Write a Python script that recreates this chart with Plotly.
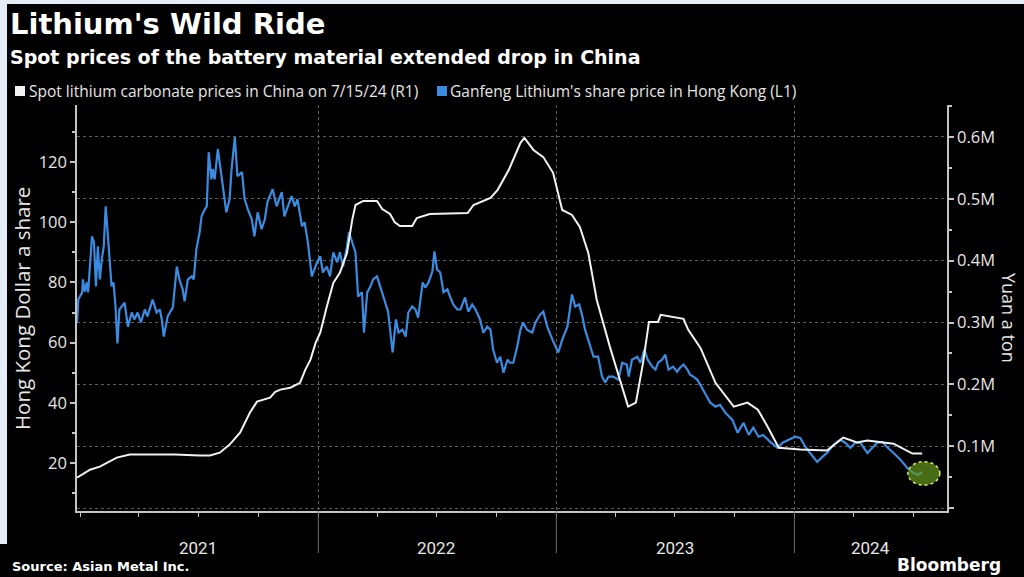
import plotly.graph_objects as go

# ---------------- data ----------------
ganfeng_dates = [
    "2020-12-27", "2020-12-29", "2021-01-04", "2021-01-05", "2021-01-08", "2021-01-11", "2021-01-13",
    "2021-01-16", "2021-01-19", "2021-01-22", "2021-01-25", "2021-01-28", "2021-01-31", "2021-02-03",
    "2021-02-06", "2021-02-09", "2021-02-12", "2021-02-15", "2021-02-18", "2021-02-21", "2021-02-24",
    "2021-02-27", "2021-03-02", "2021-03-10", "2021-03-15", "2021-03-21", "2021-03-25", "2021-03-30",
    "2021-04-04", "2021-04-10", "2021-04-14", "2021-04-22", "2021-04-28", "2021-05-03", "2021-05-06",
    "2021-05-09", "2021-05-15", "2021-05-23", "2021-05-29", "2021-06-02", "2021-06-07", "2021-06-10",
    "2021-06-15", "2021-06-21", "2021-06-24", "2021-06-28", "2021-07-03", "2021-07-06", "2021-07-11",
    "2021-07-14", "2021-07-17", "2021-07-21", "2021-07-23", "2021-07-26", "2021-07-31", "2021-08-04",
    "2021-08-07", "2021-08-13", "2021-08-18", "2021-08-21", "2021-08-26", "2021-08-30", "2021-09-06",
    "2021-09-10", "2021-09-15", "2021-09-21", "2021-09-25", "2021-09-30", "2021-10-06", "2021-10-11",
    "2021-10-15", "2021-10-23", "2021-10-29", "2021-11-06", "2021-11-10", "2021-11-15", "2021-11-21",
    "2021-11-26", "2021-11-30", "2021-12-07", "2021-12-11", "2021-12-16", "2021-12-22", "2021-12-30",
    "2022-01-04", "2022-01-08", "2022-01-14", "2022-01-19", "2022-01-24", "2022-01-30", "2022-02-03",
    "2022-02-08", "2022-02-14", "2022-02-17", "2022-02-22", "2022-02-27", "2022-03-03", "2022-03-09",
    "2022-03-12", "2022-03-17", "2022-03-22", "2022-03-26", "2022-04-01", "2022-04-06", "2022-04-14",
    "2022-04-18", "2022-04-25", "2022-04-30", "2022-05-04", "2022-05-10", "2022-05-15", "2022-05-19",
    "2022-05-25", "2022-05-30", "2022-06-03", "2022-06-10", "2022-06-14", "2022-06-19", "2022-06-25",
    "2022-06-28", "2022-07-02", "2022-07-07", "2022-07-12", "2022-07-18", "2022-07-22", "2022-07-27",
    "2022-08-02", "2022-08-07", "2022-08-14", "2022-08-19", "2022-08-25", "2022-08-30", "2022-09-06",
    "2022-09-11", "2022-09-17", "2022-09-22", "2022-09-26", "2022-10-02", "2022-10-07", "2022-10-12",
    "2022-10-18", "2022-10-22", "2022-10-27", "2022-11-02", "2022-11-07", "2022-11-11", "2022-11-17",
    "2022-11-25", "2022-11-30", "2022-12-07", "2022-12-12", "2022-12-18", "2022-12-26", "2023-01-04",
    "2023-01-10", "2023-01-18", "2023-01-25", "2023-01-30", "2023-02-05", "2023-02-10", "2023-02-14",
    "2023-02-22", "2023-02-27", "2023-03-06", "2023-03-12", "2023-03-17", "2023-03-22", "2023-03-29",
    "2023-04-06", "2023-04-12", "2023-04-19", "2023-04-22", "2023-04-27", "2023-05-05", "2023-05-10",
    "2023-05-16", "2023-05-21", "2023-05-28", "2023-06-02", "2023-06-06", "2023-06-12", "2023-06-17",
    "2023-06-22", "2023-06-29", "2023-07-05", "2023-07-10", "2023-07-15", "2023-07-21", "2023-07-25",
    "2023-07-30", "2023-08-05", "2023-08-14", "2023-08-25", "2023-09-02", "2023-09-09", "2023-09-17",
    "2023-09-28", "2023-10-06", "2023-10-15", "2023-10-23", "2023-10-30", "2023-11-07", "2023-11-14",
    "2023-11-25", "2023-12-06", "2023-12-14", "2023-12-23", "2024-01-02", "2024-01-10", "2024-01-18",
    "2024-01-25", "2024-02-05", "2024-02-13", "2024-02-20", "2024-03-01", "2024-03-11", "2024-03-19",
    "2024-03-27", "2024-04-03", "2024-04-11", "2024-04-22", "2024-04-30", "2024-05-07", "2024-05-15",
    "2024-05-22", "2024-06-01", "2024-06-12", "2024-06-22", "2024-07-01", "2024-07-09", "2024-07-15",
]
ganfeng_hkd = [
    66.7, 74.3, 76.7, 81.0, 77.0, 80.0, 76.7,
    87.7, 95.3, 93.3, 78.7, 92.0, 81.0, 87.7,
    92.0, 105.3, 97.7, 87.7, 78.7, 80.0, 72.0,
    59.7, 71.0, 73.3, 65.3, 70.0, 67.7, 70.0,
    66.7, 71.0, 68.7, 74.3, 70.0, 71.0, 67.7,
    62.0, 68.7, 71.7, 85.3, 81.0, 77.7, 73.7,
    81.0, 82.0, 81.0, 91.0, 96.7, 102.0, 104.3,
    105.3, 123.3, 114.3, 117.7, 114.3, 124.3, 117.7,
    114.3, 103.3, 107.7, 117.7, 128.3, 115.3, 116.7,
    107.7, 104.3, 101.0, 95.3, 103.3, 97.7, 101.0,
    106.7, 111.0, 105.3, 110.0, 102.0, 105.3, 108.7,
    105.3, 107.7, 98.7, 100.0, 93.3, 82.0, 86.7,
    88.7, 83.3, 85.3, 82.0, 90.0, 86.7, 90.0,
    85.3, 92.0, 96.7, 93.3, 90.0, 75.3, 76.7,
    63.3, 76.7, 78.7, 81.0, 82.0, 78.7, 72.7,
    70.3, 56.7, 67.7, 63.3, 64.3, 62.0, 70.0,
    72.0, 71.0, 68.3, 80.0, 78.3, 80.0, 83.7,
    90.3, 84.3, 83.3, 76.7, 77.7, 75.3, 72.7,
    71.0, 71.0, 75.0, 70.3, 72.7, 71.0, 67.7,
    63.3, 65.3, 64.3, 57.7, 53.3, 55.3, 50.0,
    54.3, 53.3, 53.3, 58.7, 64.3, 66.7, 64.3,
    63.3, 66.7, 69.3, 70.3, 65.3, 61.0, 56.7,
    61.0, 65.3, 76.0, 72.0, 72.7, 68.7, 64.3,
    58.7, 55.3, 55.3, 48.7, 46.7, 48.7, 48.7,
    47.7, 53.3, 52.7, 48.7, 54.3, 55.3, 53.3,
    57.7, 54.3, 52.0, 51.0, 53.3, 54.3, 56.0,
    51.0, 52.0, 50.3, 51.7, 52.7, 51.0, 49.3,
    48.7, 47.7, 44.3, 40.0, 38.7, 39.3, 36.7,
    34.3, 30.0, 33.3, 29.3, 31.7, 28.7, 29.3,
    27.0, 25.0, 26.7, 27.7, 28.7, 28.3, 25.3,
    23.3, 20.3, 22.0, 23.3, 26.0, 27.7, 26.7,
    25.0, 26.7, 26.7, 23.3, 25.3, 26.7, 27.0,
    25.3, 23.3, 21.0, 18.3, 16.7, 16.0, 17.0,
]

lithium_dates = [
    "2020-12-27", "2021-01-16", "2021-01-31", "2021-02-26", "2021-03-18", "2021-04-18", "2021-05-26",
    "2021-07-03", "2021-07-19", "2021-08-03", "2021-08-18", "2021-09-03", "2021-09-18", "2021-09-29",
    "2021-10-19", "2021-10-27", "2021-11-04", "2021-11-19", "2021-12-04", "2021-12-12", "2021-12-20",
    "2021-12-28", "2022-01-04", "2022-01-14", "2022-01-24", "2022-02-03", "2022-02-14", "2022-02-22",
    "2022-02-27", "2022-03-11", "2022-04-01", "2022-04-09", "2022-04-21", "2022-04-28", "2022-05-06",
    "2022-05-25", "2022-06-01", "2022-06-21", "2022-08-18", "2022-08-27", "2022-09-22", "2022-10-03",
    "2022-10-20", "2022-11-07", "2022-11-13", "2022-11-27", "2022-12-12", "2022-12-27", "2023-01-10",
    "2023-01-25", "2023-02-06", "2023-02-19", "2023-03-04", "2023-03-24", "2023-04-09", "2023-04-21",
    "2023-05-03", "2023-05-14", "2023-05-23", "2023-06-06", "2023-06-10", "2023-07-15", "2023-07-22",
    "2023-08-10", "2023-09-02", "2023-09-30", "2023-10-21", "2023-11-06", "2023-11-21", "2023-12-08",
    "2024-01-10", "2024-02-20", "2024-03-16", "2024-04-06", "2024-04-22", "2024-06-01", "2024-06-30",
    "2024-07-15",
]
lithium_yuan = [
    49000, 62000, 67000, 81500, 86500, 86500, 86500,
    85000, 85000, 89500, 102500, 122000, 154000, 172000,
    178500, 188000, 191500, 194500, 202500, 223500, 240000,
    267500, 283500, 325500, 364000, 380500, 412500, 466000,
    490000, 496500, 496500, 483500, 475500, 462500, 456000,
    456000, 469000, 475500, 477000, 490000, 501500, 514500,
    546500, 590500, 598500, 579000, 567500, 542000, 482000,
    474000, 454500, 412500, 336500, 261000, 207500, 164000,
    170500, 235000, 301000, 301000, 312500, 306000, 288500,
    259000, 202500, 164000, 170500, 159000, 131500, 97500,
    94500, 93000, 114000, 106000, 109000, 104000, 88000,
    88000,
]

left_ticks = [20, 40, 60, 80, 100, 120]
right_ticks = [0, 100000, 200000, 300000, 400000, 500000, 600000]
right_tick_text = ["", "0.1M", "0.2M", "0.3M", "0.4M", "0.5M", "0.6M"]
year_labels = ["2021", "2022", "2023", "2024"]
year_label_dates = ["2021-07-01", "2022-07-01", "2023-07-02", "2024-04-27"]
year_bounds = ["2022-01-01", "2023-01-01", "2024-01-01"]

title = "Lithium's Wild Ride"
subtitle = "Spot prices of the battery material extended drop in China"
legend_white = "Spot lithium carbonate prices in China on 7/15/24 (R1)"
legend_blue = "Ganfeng Lithium's share price in Hong Kong (L1)"
left_title = "Hong Kong Dollar a share"
right_title = "Yuan a ton"
source = "Source: Asian Metal Inc."
brand = "Bloomberg"

# ---------------- layout helpers ----------------
W, H = 1024, 577
L, R, T, B = 77, 947, 105, 511


def px_x(px):
    return (px - L) / (R - L)


def px_y(py):
    return (B - py) / (B - T)


BLUE = "#3b8be0"
WHITE = "#f2f2f2"
TXT = "#e6e6e6"
GRID = "#5e5e5e"
AXIS = "#c4c4c4"
SANS = "Open Sans, DejaVu Sans, sans-serif"
BOLD = "DejaVu Sans, Verdana, sans-serif"
NARROW = "Liberation Sans Narrow, Roboto, sans-serif"

fig = go.Figure()
fig.add_trace(go.Scatter(
    x=lithium_dates, y=lithium_yuan, yaxis="y2", mode="lines",
    line=dict(color=WHITE, width=2), name=legend_white, showlegend=False,
))
fig.add_trace(go.Scatter(
    x=ganfeng_dates, y=ganfeng_hkd, yaxis="y", mode="lines",
    line=dict(color=BLUE, width=2.2), name=legend_blue, showlegend=False,
))

shapes = [
    # screenshot frame (light strip on top/left)
    dict(type="rect", xref="paper", yref="paper", layer="below",
         x0=px_x(7), x1=px_x(W), y0=px_y(4), y1=px_y(H),
         fillcolor="black", line=dict(width=0)),
    dict(type="rect", xref="paper", yref="paper", layer="below",
         x0=px_x(0), x1=px_x(8), y0=px_y(544), y1=px_y(H),
         fillcolor="black", line=dict(width=0)),
    # legend squares
    dict(type="rect", xref="paper", yref="paper",
         x0=px_x(15), x1=px_x(25), y0=px_y(96), y1=px_y(86),
         fillcolor=WHITE, line=dict(width=0)),
    dict(type="rect", xref="paper", yref="paper",
         x0=px_x(437), x1=px_x(447), y0=px_y(96), y1=px_y(86),
         fillcolor=BLUE, line=dict(width=0)),
    # highlight ellipse around the latest share price
    dict(type="circle", xref="x", yref="y", layer="above",
         x0="2024-06-23", x1="2024-08-11", y0=12.6, y1=20.4,
         fillcolor="rgba(100,150,30,0.72)",
         line=dict(color="#d8ec6a", width=1.5, dash="dot")),
]
# year separators below the axis
for d in year_bounds:
    shapes.append(dict(type="line", xref="x", yref="paper", x0=d, x1=d,
                       y0=px_y(B), y1=px_y(553), line=dict(color="#6a6a6a", width=1)))

annotations = [
    dict(text=f"<b>{title}</b>", xref="paper", yref="paper", x=px_x(8), y=px_y(24),
         xanchor="left", yanchor="middle", showarrow=False,
         font=dict(family=BOLD, size=29, color="white")),
    dict(text=f"<b>{subtitle}</b>", xref="paper", yref="paper", x=px_x(8), y=px_y(57),
         xanchor="left", yanchor="middle", showarrow=False,
         font=dict(family=BOLD, size=19, color="white")),
    dict(text=legend_white, xref="paper", yref="paper", x=px_x(27), y=px_y(91),
         xanchor="left", yanchor="middle", showarrow=False,
         font=dict(family=SANS, size=15.5, color=TXT)),
    dict(text=legend_blue, xref="paper", yref="paper", x=px_x(448), y=px_y(91),
         xanchor="left", yanchor="middle", showarrow=False,
         font=dict(family=SANS, size=15.5, color=TXT)),
    dict(text=left_title, xref="paper", yref="paper", x=px_x(22), y=px_y(309),
         xanchor="center", yanchor="middle", textangle=-90, showarrow=False,
         font=dict(family=SANS, size=20.5, color=TXT)),
    dict(text=right_title, xref="paper", yref="paper", x=px_x(1009), y=px_y(318),
         xanchor="center", yanchor="middle", textangle=90, showarrow=False,
         font=dict(family=SANS, size=18, color=TXT)),
    dict(text=f"<b>{source}</b>", xref="paper", yref="paper", x=px_x(10), y=px_y(566),
         xanchor="left", yanchor="middle", showarrow=False,
         font=dict(family=BOLD, size=13, color="white")),
    dict(text=f"<b>{brand}</b>", xref="paper", yref="paper", x=px_x(1003), y=px_y(565),
         xanchor="right", yanchor="middle", showarrow=False,
         font=dict(family=BOLD, size=17, color="white")),
]
for lab, d in zip(year_labels, year_label_dates):
    annotations.append(dict(text=lab, xref="x", yref="paper", x=d, y=px_y(548),
                            xanchor="center", yanchor="middle", showarrow=False,
                            font=dict(family=NARROW, size=17, color=TXT)))

fig.update_layout(
    width=W, height=H,
    margin=dict(l=L, r=W - R, t=T, b=H - B, pad=0),
    paper_bgcolor="#e4ecf5",
    plot_bgcolor="black",
    showlegend=False,
    xaxis=dict(
        type="date", range=["2020-12-27", "2024-08-22"],
        tickmode="array", tickvals=year_bounds, showticklabels=False,
        ticks="outside", ticklen=5, tickcolor=AXIS,
        showgrid=True, gridcolor=GRID, griddash="dot", gridwidth=1,
        showline=True, linecolor=AXIS, linewidth=1.5, zeroline=False,
        minor=dict(ticks="outside", ticklen=4, tickcolor=AXIS, dtick="M3",
                   tick0="2021-01-01", showgrid=False),
    ),
    yaxis=dict(
        range=[4, 139], tickmode="array", tickvals=left_ticks,
        ticks="outside", ticklen=5, tickcolor=AXIS, tickwidth=1.5,
        tickfont=dict(family=SANS, size=16.5, color=TXT),
        showgrid=False, zeroline=False,
        showline=True, linecolor=AXIS, linewidth=1.5,
        minor=dict(ticks="outside", ticklen=3, tickcolor=AXIS, dtick=10, tick0=0, showgrid=False),
    ),
    yaxis2=dict(
        range=[-4800, 651700], overlaying="y", side="right", anchor="x",
        tickmode="array", tickvals=right_ticks, ticktext=right_tick_text,
        ticks="outside", ticklen=5, tickcolor=AXIS, tickwidth=1.5,
        tickfont=dict(family=SANS, size=16.5, color=TXT),
        showgrid=True, gridcolor=GRID, griddash="dot", gridwidth=1,
        zeroline=False, showline=True, linecolor=AXIS, linewidth=1.5,
        minor=dict(ticks="outside", ticklen=3, tickcolor=AXIS, dtick=50000, tick0=0, showgrid=False),
    ),
    shapes=shapes,
    annotations=annotations,
)

fig.write_html("out.html")
